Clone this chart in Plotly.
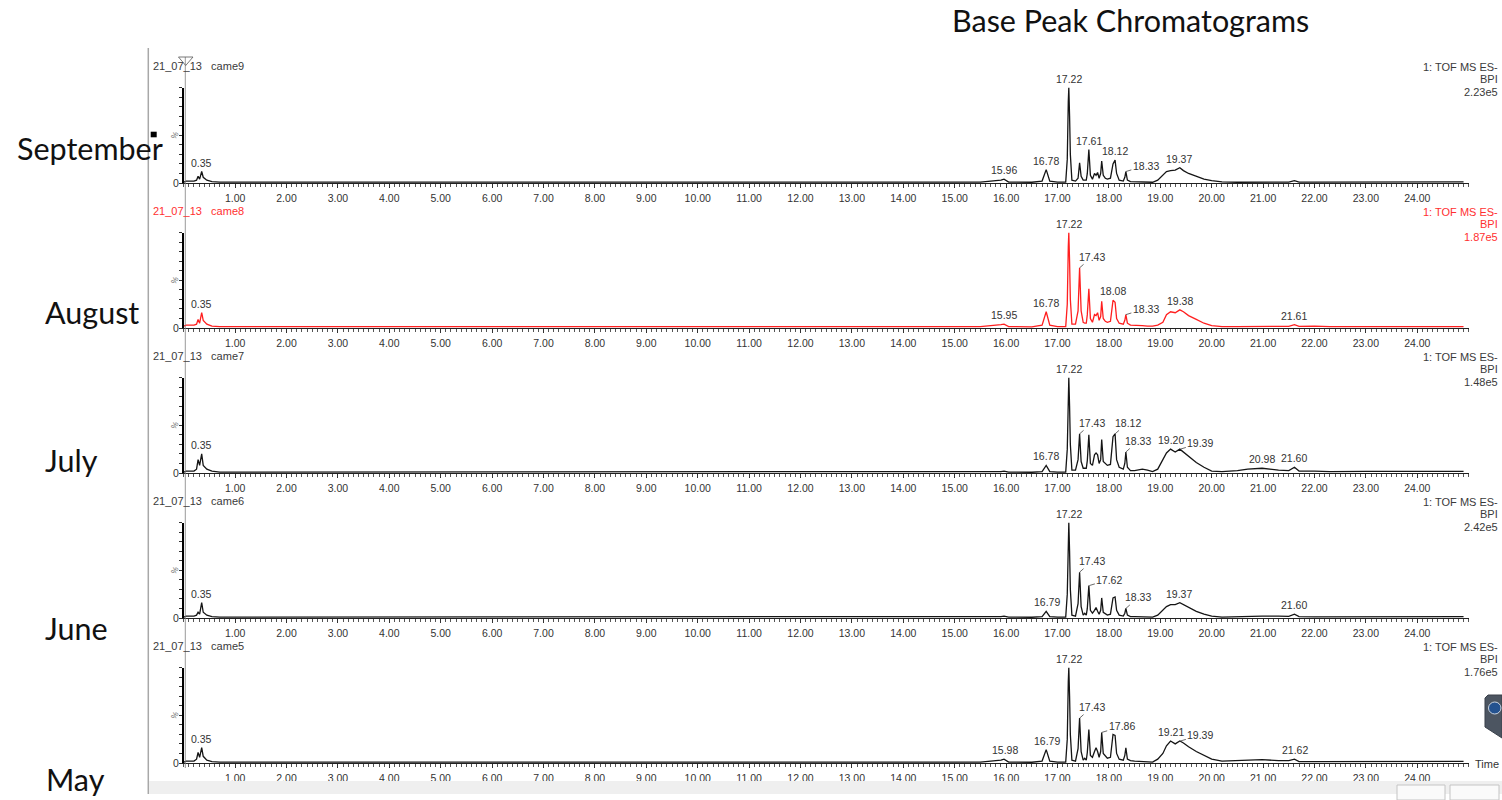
import numpy as np
import plotly.graph_objects as go

W, H = 1502, 800

# ---- data -------------------------------------------------------------
months = ["September", "August", "July", "June", "May"]
sample_ids = ["came9", "came8", "came7", "came6", "came5"]
run_date = "21_07_13"
bpi_max = ["2.23e5", "1.87e5", "1.48e5", "2.42e5", "1.76e5"]
detector = ["1: TOF MS ES-", "BPI"]

x_tick_vals = list(range(1, 25))
x_tick_text = [f"{v:.2f}" for v in x_tick_vals]

# retention time grid (min), shared by all five runs
rt_min = [
    0.00, 0.05, 0.20, 0.25, 0.28, 0.31, 0.35, 0.38, 0.45, 0.55, 0.70,
    1.50, 3.00, 5.00, 8.00, 11.00, 14.00, 15.50, 15.90, 15.96, 16.05,
    16.50, 16.70, 16.78, 16.85, 17.00, 17.16, 17.19, 17.21, 17.22, 17.235, 17.25, 17.28, 17.35,
    17.40, 17.43, 17.46, 17.50, 17.53, 17.56, 17.58, 17.61, 17.64, 17.68, 17.72, 17.75, 17.78, 17.81, 17.84, 17.86, 17.89,
    17.93, 17.97, 18.03, 18.08, 18.12, 18.15, 18.20, 18.28, 18.31, 18.33, 18.36, 18.42, 18.50,
    18.65, 18.75, 18.85, 18.95, 19.05, 19.12, 19.20, 19.29, 19.38, 19.45, 19.55, 19.70, 19.85, 20.00,
    20.20, 20.50, 20.70, 20.98, 21.30, 21.50, 21.61, 21.70, 22.00, 22.30, 23.00, 24.00, 24.90,
]

# relative base peak intensity (%)
sep_int = [
    1, 2, 2, 3, 7, 4, 12, 6, 3, 1.5, 1,
    1, 1, 0.8, 1, 0.8, 0.8, 1, 3, 4, 1,
    0.8, 2, 14, 2, 1, 1, 25, 85, 100, 70, 30, 3, 2,
    5, 21, 7, 3, 3, 3, 10, 35, 8, 4, 10, 8, 11, 5, 10, 23, 8,
    5, 4, 5, 20, 24, 10, 3, 2, 6, 12, 3, 1.5, 1.5,
    1.5, 1.5, 0.8, 3, 8, 12, 13, 13.5, 16, 13, 10, 7, 4, 2.5,
    1.2, 0.8, 0.8, 0.8, 0.8, 1, 2.5, 1, 1, 1, 1.2, 1.2, 1.2,
]
aug_int = [
    2, 3, 3, 4, 9, 5, 16, 8, 4, 2, 1.5,
    1.5, 1.5, 1.2, 1.5, 1.2, 1.2, 1.5, 3.5, 4, 1.5,
    1.2, 3, 17, 3, 1.5, 1.5, 25, 85, 100, 70, 30, 4, 4,
    18, 63, 18, 6, 5, 5, 14, 41, 10, 6, 14, 13, 16, 8, 12, 28, 10,
    7, 6, 7, 29, 27, 10, 5, 4, 8, 14, 5, 3, 3,
    2.5, 2, 2, 3, 6, 14, 17, 16, 19, 17, 13, 9, 5, 2.5,
    1.5, 1.5, 1.5, 1.5, 1.5, 1.8, 3.5, 1.8, 2, 1.5, 1.5, 1.5, 1.5,
]
jul_int = [
    1, 2, 2, 4, 14, 8, 20, 8, 4, 2, 1,
    1, 1, 0.8, 1, 0.8, 0.8, 1, 1.5, 2, 1,
    0.8, 1.5, 8, 1.5, 1, 1, 25, 85, 100, 70, 30, 3, 3,
    14, 41, 12, 5, 5, 5, 13, 40, 10, 8, 19, 21, 19, 10, 14, 35, 12,
    10, 8, 9, 38, 41, 14, 6, 4, 10, 22, 6, 2.5, 2.5,
    4, 3, 1.5, 4, 14, 21, 25, 22, 25, 22, 17, 11, 6, 2,
    1.5, 2.5, 4, 5, 3, 2.5, 6, 2, 2, 1.5, 1.8, 1.8, 1.8,
]
jun_int = [
    1, 2, 2, 3, 6, 4, 16, 6, 3, 1.5, 1,
    1, 1, 0.8, 1, 0.8, 0.8, 1, 1.5, 2, 1,
    0.8, 1.5, 7, 1.5, 1, 1, 25, 85, 100, 70, 30, 3, 2,
    15, 48, 12, 3, 5, 3, 10, 34, 8, 5, 8, 11, 7, 4, 8, 21, 6,
    4, 3, 4, 21, 22, 8, 3, 2, 5, 10, 3, 1.5, 1.5,
    1.2, 1.2, 1, 3, 8, 12, 14, 14, 16, 14, 11, 7, 4, 2,
    1, 1.5, 2, 2, 2, 1.8, 4, 1.5, 1.2, 1.2, 1.2, 1.5, 1.5,
]
may_int = [
    1, 2, 2, 4, 11, 6, 16, 7, 3, 1.5, 1,
    1, 1, 0.8, 1, 0.8, 0.8, 1, 3, 4, 1,
    0.8, 2, 14, 2, 1, 1, 25, 85, 100, 70, 30, 3, 2,
    15, 47, 12, 3, 5, 3, 11, 35, 8, 6, 12, 16, 12, 6, 12, 32, 10,
    7, 5, 6, 30, 29, 10, 4, 3, 8, 16, 4, 2.5, 2,
    1.5, 1.2, 1, 4, 10, 18, 23, 20, 23, 21, 17, 12, 8, 4,
    2, 2.5, 3, 3.5, 2.5, 2.5, 4, 1.5, 1.5, 1.5, 1.5, 1.8, 1.8,
]
intensities = [sep_int, aug_int, jul_int, jun_int, may_int]

# annotated retention times per run, with label placement
sep_peaks = [("0.35", "up"), ("15.96", "up"), ("16.78", "up"), ("17.22", "up"),
             ("17.61", "up"), ("18.12", "up"), ("18.33", "side"), ("19.37", "up")]
aug_peaks = [("0.35", "up"), ("15.95", "up"), ("16.78", "up"), ("17.22", "up"),
             ("17.43", "lead"), ("18.08", "up"), ("18.33", "side"), ("19.38", "up"),
             ("21.61", "up")]
jul_peaks = [("0.35", "up"), ("16.78", "up"), ("17.22", "up"), ("17.43", "lead"),
             ("18.12", "lead"), ("18.33", "lead"), ("19.20", "up"), ("19.39", "side"),
             ("20.98", "up"), ("21.60", "up")]
jun_peaks = [("0.35", "up"), ("16.79", "up"), ("17.22", "up"), ("17.43", "lead"),
             ("17.62", "side"), ("18.33", "lead"), ("19.37", "up"), ("21.60", "up")]
may_peaks = [("0.35", "up"), ("15.98", "up"), ("16.79", "up"), ("17.22", "up"),
             ("17.43", "lead"), ("17.86", "side"), ("19.21", "up"), ("19.39", "side"),
             ("21.62", "up")]
peak_labels = [sep_peaks, aug_peaks, jul_peaks, jun_peaks, may_peaks]

# ---- styling ----------------------------------------------------------
TXT = "Liberation Sans, Arial, sans-serif"
BIG = "Lato, Open Sans, sans-serif"
trace_colors = ["#151515", "#ff1f1f", "#151515", "#151515", "#151515"]
header_colors = ["#3a3a3a", "#ff3030", "#3a3a3a", "#3a3a3a", "#3a3a3a"]
label_offsets = {"lead": (12.5, -11), "side": (20, -6)}

X0_PX, X1_PX = 183.7, 1468.7          # time axis extent
BASE0_PX, PANEL_STEP, FULL_PX = 183.0, 145.0, 95.5


def px(x):
    return x / W


def py(y):
    return 1 - y / H


fig = go.Figure()
annotations = []
shapes = []

for k in range(5):
    n = k + 1
    yb = BASE0_PX + PANEL_STEP * k
    ytop = yb - FULL_PX
    xa, ya = f"x{n}" if n > 1 else "x", f"y{n}" if n > 1 else "y"

    fig.add_trace(go.Scatter(
        x=rt_min, y=intensities[k], mode="lines", xaxis=xa, yaxis=ya,
        line=dict(color=trace_colors[k], width=1.3), hoverinfo="skip",
        showlegend=False, cliponaxis=False,
    ))

    fig.layout[f"xaxis{n}"] = dict(
        domain=[px(X0_PX), px(X1_PX)], range=[0, 25], anchor=ya,
        showline=True, linecolor="#202020", linewidth=1.4,
        ticks="outside", ticklen=4, tickwidth=1, tickcolor="#333",
        tickvals=x_tick_vals, ticktext=x_tick_text, ticklabelstandoff=1,
        tickfont=dict(family=TXT, size=10.5, color="#333"),
        minor=dict(tickmode="linear", tick0=0, dtick=0.1, ticklen=2.5,
                   tickcolor="#555", ticks="outside", tickwidth=0.8),
        showgrid=False, zeroline=False, fixedrange=True,
    )
    fig.layout[f"yaxis{n}"] = dict(
        domain=[py(yb), py(ytop)], range=[0, 100], anchor=xa,
        showline=True, linecolor="#000", linewidth=2,
        ticks="outside", tickvals=list(range(0, 101, 10)), ticklen=3,
        tickcolor="#333", tickwidth=1, showticklabels=False,
        showgrid=False, zeroline=False, fixedrange=True,
    )

    # peak retention time labels
    t_arr = np.array(rt_min)
    i_arr = np.array(intensities[k], dtype=float)
    for text, kind in peak_labels[k]:
        t = float(text)
        win = np.abs(t_arr - t) <= 0.025
        y = float(i_arr[win].max()) if win.any() else float(np.interp(t, t_arr, i_arr))
        base = dict(x=t, y=y, xref=xa, yref=ya, text=text,
                    font=dict(family=TXT, size=10.5, color="#333"))
        if kind == "up":
            annotations.append(dict(base, showarrow=False, yanchor="bottom",
                                    yshift=1))
        else:
            ax, ay = label_offsets[kind]
            annotations.append(dict(base, showarrow=True, arrowhead=0,
                                    arrowwidth=0.8, arrowcolor="#444",
                                    ax=ax, ay=ay))

    # run header and detector info
    annotations.append(dict(
        x=px(150.7), y=py(yb - 117.3), xref="paper", yref="paper",
        text=f"{run_date}\u00a0\u00a0\u00a0{sample_ids[k]}", showarrow=False,
        xanchor="left", yanchor="middle",
        font=dict(family=TXT, size=11, color=header_colors[k])))
    for j, (txt, dy) in enumerate(zip(detector + [bpi_max[k]], [115.7, 103.7, 91.3])):
        annotations.append(dict(
            x=px(1500), y=py(yb - dy), xref="paper", yref="paper", text=txt,
            showarrow=False, xanchor="right", yanchor="middle",
            font=dict(family=TXT, size=11, color=header_colors[k])))

    # y axis labels
    annotations.append(dict(x=px(175.7), y=py(yb), xref="paper", yref="paper",
                            text="0", showarrow=False, xanchor="center", yanchor="middle",
                            font=dict(family=TXT, size=10.5, color="#333")))
    annotations.append(dict(x=px(174.5), y=py(yb - FULL_PX / 2), xref="paper", yref="paper",
                            text="%", showarrow=False, textangle=-60,
                            xanchor="center", yanchor="middle",
                            font=dict(family=TXT, size=8, color="#666")))

# month names on the left
month_pos = [(15, 148), (43, 312), (43, 460), (43, 628), (44, 779)]
for name, (mx, my) in zip(months, month_pos):
    annotations.append(dict(x=px(mx), y=py(my), xref="paper", yref="paper",
                            text=name, showarrow=False, xanchor="left", yanchor="middle",
                            font=dict(family=BIG, size=30.5, color="#111")))

annotations.append(dict(x=px(950), y=py(20), xref="paper", yref="paper",
                        text="Base Peak Chromatograms", showarrow=False,
                        xanchor="left", yanchor="middle",
                        font=dict(family=BIG, size=30.5, color="#111")))
annotations.append(dict(x=px(1473), y=py(764), xref="paper", yref="paper",
                        text="Time", showarrow=False, xanchor="left", yanchor="middle",
                        font=dict(family=TXT, size=11, color="#333")))


def path_px(points, close=True):
    s = " ".join(("M" if i == 0 else "L") + f"{px(x):.5f},{py(y):.5f}"
                 for i, (x, y) in enumerate(points))
    return s + (" Z" if close else "")


P = dict(xref="paper", yref="paper")
# window frame line and bottom strip
shapes.append(dict(P, type="line", x0=px(148.3), x1=px(148.3), y0=py(48), y1=py(794),
                   line=dict(color="#a8a8a8", width=1.5)))
shapes.append(dict(P, type="rect", x0=px(149), x1=px(1502), y0=py(781), y1=py(794),
                   fillcolor="#efefef", line=dict(width=0)))
for bx0, bx1 in [(1397, 1445), (1450, 1499)]:
    shapes.append(dict(P, type="rect", x0=px(bx0), x1=px(bx1), y0=py(785), y1=py(800),
                       fillcolor="#fafafa", line=dict(color="#c4c4c4", width=1)))
# cursor line through all runs with its marker
shapes.append(dict(P, type="line", x0=px(185.3), x1=px(185.3), y0=py(57), y1=py(768),
                   line=dict(color="#808080", width=0.8)))
shapes.append(dict(P, type="path", path=path_px([(178.5, 57), (193, 57), (185.7, 65.5)]),
                   line=dict(color="#555", width=0.8)))
shapes.append(dict(P, type="rect", x0=px(150.7), x1=px(156.7), y0=py(137.3), y1=py(131.7),
                   fillcolor="#000", line=dict(width=0)))
# side widget
shapes.append(dict(P, type="path",
                   path=path_px([(1502, 695), (1488, 695), (1485, 698), (1485, 727), (1502, 738)]),
                   fillcolor="#4c5561", line=dict(color="#3a414b", width=1)))
shapes.append(dict(P, type="circle", x0=px(1488.5), x1=px(1501), y0=py(714), y1=py(702),
                   fillcolor="#24528f", line=dict(color="#c9d3e0", width=1)))

fig.update_layout(
    width=W, height=H, autosize=False,
    margin=dict(l=0, r=0, t=0, b=0),
    paper_bgcolor="white", plot_bgcolor="white",
    annotations=annotations, shapes=shapes, showlegend=False,
)

fig.write_html("out.html")
